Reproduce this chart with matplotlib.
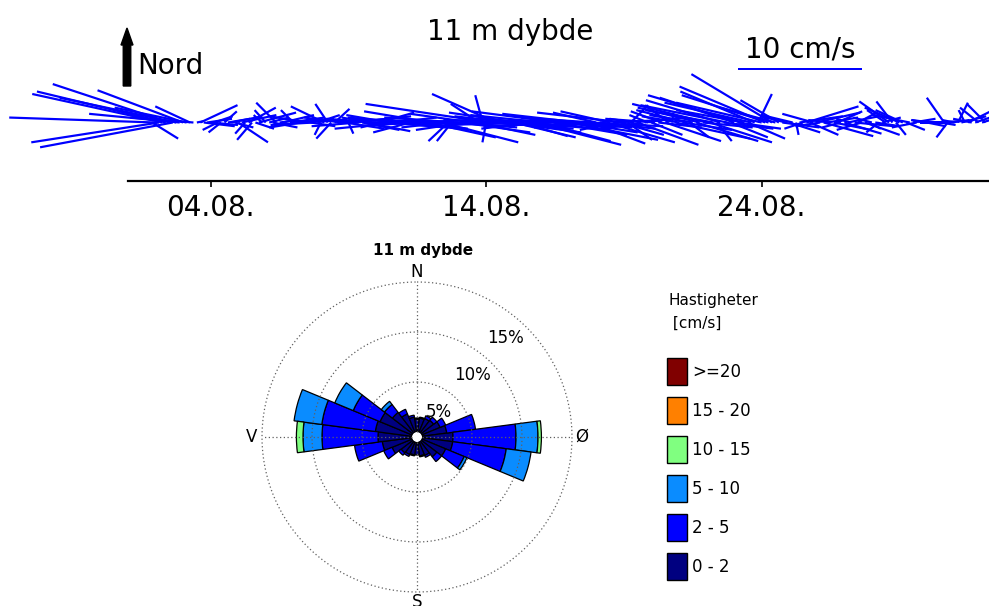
import numpy as np
import matplotlib
matplotlib.use("Agg")
import matplotlib.pyplot as plt
from matplotlib.patches import FancyArrow, Rectangle

plt.rcParams['font.family'] = ['DejaVu Sans']

W, H, DPI = 989, 606, 100

# ---------------------------------------------------------------
# Current record at 11 m, 3-hourly samples (day of August)
# u = eastward, v = northward component [cm/s]
# ---------------------------------------------------------------
t_start = 1.875
t_step = 0.125

u = [2.1,
     -11.8, -10.3, -10.5, -10.4, -9.4, -10.7, -9.4, -7.3,
     -6.9, -5.8, -2.8, -5.1, 0.5, 3.0, 2.5, 2.0,
     2.2, 1.5, -1.2, -1.0, 1.0, 1.8, 2.5, 1.5,
     2.4, 2.8, -0.8, 2.2, -1.2, 1.5, 3.0, -0.7,
     -0.9, 1.6, 2.0, -1.6, 1.5, 2.5, -1.0, 2.8,
     -1.0, 3.0, -2.5, 3.5, -3.0, 2.0, -3.5, 1.8,
     -0.5, -2.7, -1.0, -1.2, 1.2, 4.0, -3.0, 3.2,
     0.4, -2.5, 4.5, -3.8, 3.0, 3.6, -2.2, 4.2,
     -4.0, 2.8, -1.8, 4.8, -3.5, 3.5, -5.0, 2.5,
     -4.5, 5.0, -3.0, 4.5, -5.5, 3.8, -4.2, 5.5,
     -5.4, 6.5, -4.5, 6.2, -3.5, -1.6, -1.2, 5.0,
     -6.0, 5.5, -4.0, 6.0, -5.0, 4.8, -2.3, -0.6,
     -0.3, -10.0, 6.5, -5.2, 5.5, -6.0, 6.0, -4.5,
     5.0, -5.5, 3.8, -6.5, 6.5, -4.0, 7.0, -5.0,
     5.6, -6.0, 6.8, -5.5, 5.8, -7.0, 6.0, -4.0,
     7.2, -5.0, 5.0, -6.2, 6.5, -4.2, 4.5, -5.8,
     -3.5, 4.5, -5.0, 5.5, -4.0, 4.0, -3.0, 3.5,
     -7.0, 2.0, 1.4, -2.0, 4.9, -3.0, 3.0, -1.5,
     2.5, -4.0, 3.5, -2.5, 4.5, -1.9, 0.1, 6.0,
     -3.0, 4.0, -4.0, 1.6, -3.5, 5.0, -5.0, 4.0,
     -6.0, 5.0, -5.5, 1.2, -6.0, 4.0, -7.0, 3.0,
     -6.0, 3.5, -7.5, -5.5, 3.0, -7.0, -6.0, 1.1,
     -6.9, -6.9, -7.0, -6.5, -4.5, -3.1, 3.0, -2.0,
     2.5, -2.5, 0.2, 3.5, -1.5, 4.2, 2.3, -2.5,
     3.5, -2.0, 4.0, 2.5, -1.8, 3.0, 2.0, -1.5,
     3.0, 2.5, -1.2, 3.2, 1.5, -2.0, 2.8, 1.0,
     -1.5, 2.0, -1.0, 1.5, -1.5, -2.4, -1.3, 0.8,
     -2.8, -2.2, 1.5, -3.0, 1.8, -2.0, 2.5, -1.0,
     1.5, -1.5, 2.0, -1.0, 1.2, -1.4, -0.9, 1.5,
     -1.0, 0.8, 2.0, -0.5, 1.8, -1.5, 1.5, -1.5,
     1.0, -1.5]

v = [-1.3,
     0.4, -1.6, 2.3, 2.5, 3.1, -2.0, 2.0, 0.7,
     2.6, 1.2, 1.3, 0.4, 0.1, 1.4, -0.3, 0.3,
     -0.2, 0.5, -0.6, -0.8, 0.9, 0.3, 0.5, -0.4,
     -1.6, 0.6, -0.9, 1.2, -1.4, -0.5, 0.8, 0.6,
     1.0, 0.4, -0.4, 1.6, 0.2, 0.6, -0.3, 0.4,
     1.0, 0.3, -0.4, 0.2, 0.5, -0.3, -0.2, 0.6,
     -1.0, 1.3, 1.5, -1.3, 1.1, 0.3, 0.4, -0.5,
     -0.9, 0.2, 0.5, -0.3, -0.6, -0.7, 0.4, 0.2,
     0.3, 0.8, -0.4, -0.4, 0.6, 0.4, -0.5, -0.3,
     0.4, -0.6, -0.8, 0.2, 0.3, -0.5, -0.2, -1.2,
     0.9, -0.3, 0.2, -1.6, -0.4, -1.5, -1.5, -0.4,
     0.4, -0.8, -0.6, -0.2, 0.7, -1.0, 1.5, 2.2,
     -1.6, 1.5, -0.5, 2.3, -0.3, -0.3, -0.8, 0.5,
     -1.2, 0.8, -1.1, 0.2, -0.6, -0.5, -1.8, 0.3,
     -1.5, 0.6, -0.4, -0.4, -1.0, 0.9, -0.3, 0.5,
     -1.4, 0.2, -0.8, 0.7, -0.3, -0.4, -1.7, 0.4,
     0.8, -0.5, -0.3, -1.6, 0.9, 0.2, -0.6, -1.0,
     0.8, -1.4, 1.4, 0.3, -1.8, -0.5, 0.4, 0.6,
     -1.0, 0.3, -0.4, 0.9, -1.5, 1.4, 0.8, -1.3,
     0.5, -0.6, 1.0, -1.2, 0.6, -1.5, 1.2, -0.4,
     1.5, -1.6, 1.0, -1.5, 1.8, -0.5, 1.4, -1.2,
     2.0, -0.5, 2.2, 1.0, -1.3, 1.6, 2.5, 2.3,
     1.6, 2.9, 2.2, 3.9, 1.2, 1.8, -0.4, 0.5,
     -0.8, 0.6, -1.0, 0.5, -0.5, 1.3, -1.0, 0.7,
     0.8, -0.3, -1.1, 0.4, 0.2, -0.6, 0.9, -0.4,
     -0.9, 0.5, 0.3, -0.3, 0.8, -0.6, -1.0, -0.5,
     0.4, -0.3, -0.8, 0.4, 1.0, 1.7, 1.7, -1.0,
     1.2, 1.0, -0.6, 0.6, 0.3, -0.4, 0.0, 0.2,
     -0.3, 0.2, 0.1, 0.0, -0.2, 2.0, -1.2, 0.2,
     0.2, 1.6, 0.5, 1.0, 0.9, 0.3, 0.5, 1.2,
     0.3, 1.5]

tick_days = [4, 14, 24]
tick_labels = ['04.08.', '14.08.', '24.08.']
depth_title = '11 m dybde'
key_speed = 10
key_label = '10 cm/s'

# ---------------------------------------------------------------
# Current rose: frequency [%] per 15-degree sector and speed class
# ---------------------------------------------------------------
sector_dirs = list(range(0, 360, 15))
speed_classes = ['0 - 2', '2 - 5', '5 - 10', '10 - 15', '15 - 20', '>=20']
class_colors = ['#000080', '#0000FF', '#0A8CFF', '#80FF80', '#FF8000', '#800000']
#            0    15   30   45   60   75   90   105  120  135  150  165
#            180  195  210  225  240  255  270  285  300  315  330  345
freq_0_2 = [1.3, 1.4, 1.5, 1.6, 2.0, 2.5, 3.1, 3.1, 2.6, 2.0, 1.5, 1.4,
            1.3, 1.3, 1.4, 1.5, 2.2, 3.0, 3.4, 3.7, 3.5, 2.6, 2.0, 1.5]
freq_2_5 = [0.1, 0.1, 0.3, 0.4, 0.6, 2.9, 6.3, 5.4, 2.0, 0.6, 0.2, 0.1,
            0.0, 0.1, 0.2, 0.3, 0.9, 2.8, 5.6, 5.4, 2.9, 1.0, 0.5, 0.2]
freq_5_10 = [0.0, 0.0, 0.0, 0.0, 0.0, 0.0, 2.2, 2.5, 0.3, 0.0, 0.0, 0.0,
             0.0, 0.0, 0.0, 0.0, 0.0, 0.0, 1.9, 2.8, 2.0, 0.4, 0.0, 0.0]
freq_10_15 = [0.0, 0.0, 0.0, 0.0, 0.0, 0.0, 0.34, 0.0, 0.0, 0.0, 0.0, 0.0,
              0.0, 0.0, 0.0, 0.0, 0.0, 0.0, 0.66, 0.0, 0.0, 0.0, 0.0, 0.0]
freq_15_20 = [0.0] * 24
freq_20_up = [0.0] * 24
ring_levels = [5, 10, 15]
ring_labels = ['5%', '10%', '15%']
compass_labels = ['N', 'Ø', 'S', 'V']
legend_title = ['Hastigheter', ' [cm/s]']

# ---------------------------------------------------------------
fig = plt.figure(figsize=(W / DPI, H / DPI), dpi=DPI)

# pixel-coordinate overlay for free annotations
ov = fig.add_axes([0, 0, 1, 1])
ov.set_xlim(0, W)
ov.set_ylim(H, 0)
ov.axis('off')

# ---------------- stick plot ----------------
px_day = 27.55          # pixels per day
px_cms = 12.4           # pixels per cm/s
x_day1 = 128            # pixel column of 1 August
base_y = 122.5          # pixel row of the zero line
ax_bottom = 181

ax = fig.add_axes([0, (H - ax_bottom) / H, 1, ax_bottom / H])
ax.set_xlim(1 - x_day1 / px_day, 1 + (W - x_day1) / px_day)
ax.set_ylim(-(ax_bottom - base_y) / px_cms, base_y / px_cms)
ax.patch.set_visible(False)

t = t_start + t_step * np.arange(len(u))
Q = ax.quiver(t, np.zeros_like(t), u, v, angles='uv',
              scale_units='inches', scale=DPI / px_cms,
              units='dots', width=2.2, headwidth=0, headlength=0,
              headaxislength=0, minlength=0, color='#0000FF')

for s in ['top', 'left', 'right']:
    ax.spines[s].set_visible(False)
ax.spines['bottom'].set_linewidth(1.6)
ax.spines['bottom'].set_bounds(1, ax.get_xlim()[1])
ax.set_yticks([])
ax.set_xticks(tick_days)
ax.set_xticklabels(tick_labels, fontsize=20)
ax.tick_params(axis='x', direction='out', length=4.5, width=1.2, pad=4.5)

ax.quiverkey(Q, 800 / W, (H - 69) / H, key_speed, key_label, labelpos='N',
             coordinates='figure', labelsep=0.05,
             fontproperties={'size': 20})

ov.text(510, 40, depth_title, fontsize=20, ha='center', va='baseline')
ov.add_patch(FancyArrow(127, 86, 0, -58, width=7.5, head_width=12,
                        head_length=17, length_includes_head=True,
                        color='black'))
ov.text(137, 74, 'Nord', fontsize=20, ha='left', va='baseline')

# ---------------- current rose ----------------
cx, cy, R = 417, 437, 155
pr = fig.add_axes([(cx - R) / W, (H - cy - R) / H, 2 * R / W, 2 * R / H],
                  projection='polar')
pr.set_theta_zero_location('N')
pr.set_theta_direction(-1)
pr.set_rorigin(-0.5)
pr.set_ylim(0, 15)
pr.axis('off')

theta = np.deg2rad(sector_dirs)
width = np.deg2rad(15)
freqs = [freq_0_2, freq_2_5, freq_5_10, freq_10_15, freq_15_20, freq_20_up]
cum = np.zeros(len(sector_dirs))
for f, col in zip(freqs, class_colors):
    f = np.asarray(f)
    m = f > 0
    if m.any():
        pr.bar(theta[m], f[m], width=width, bottom=cum[m], color=col,
               edgecolor='black', linewidth=0.9, align='center', zorder=2)
    cum = cum + f

circ = np.linspace(0, 2 * np.pi, 721)
for r in ring_levels:
    pr.plot(circ, np.full_like(circ, r), ls=(0, (1, 2)), color='#606060',
            lw=0.9, zorder=4, clip_on=False)
for ang in [0, 90, 180, 270]:
    pr.plot([np.deg2rad(ang)] * 2, [0, 15], ls=(0, (1, 2)), color='#606060',
            lw=0.9, zorder=4, clip_on=False)
for r, lab in zip(ring_levels, ring_labels):
    pr.text(np.deg2rad(42), r - 2.2, lab, fontsize=12, ha='center',
            va='center', zorder=5)
for ang, lab in zip([0, 90, 180, 270], compass_labels):
    pr.text(np.deg2rad(ang), 16.0, lab, fontsize=12, ha='center',
            va='center', clip_on=False)

ov.text(423, 250, depth_title, fontsize=11, fontweight='bold',
        ha='center', va='center')

# ---------------- legend ----------------
ov.text(668, 300, legend_title[0], fontsize=11, ha='left', va='center')
ov.text(668, 323, legend_title[1], fontsize=11, ha='left', va='center')
for i, (lab, col) in enumerate(zip(speed_classes[::-1], class_colors[::-1])):
    top = 358 + 39 * i
    ov.add_patch(Rectangle((667, top), 20, 27, facecolor=col,
                           edgecolor='black', linewidth=1.0))
    ov.text(692, top + 14, lab, fontsize=12, ha='left', va='center')

fig.savefig('out.png', dpi=DPI)
